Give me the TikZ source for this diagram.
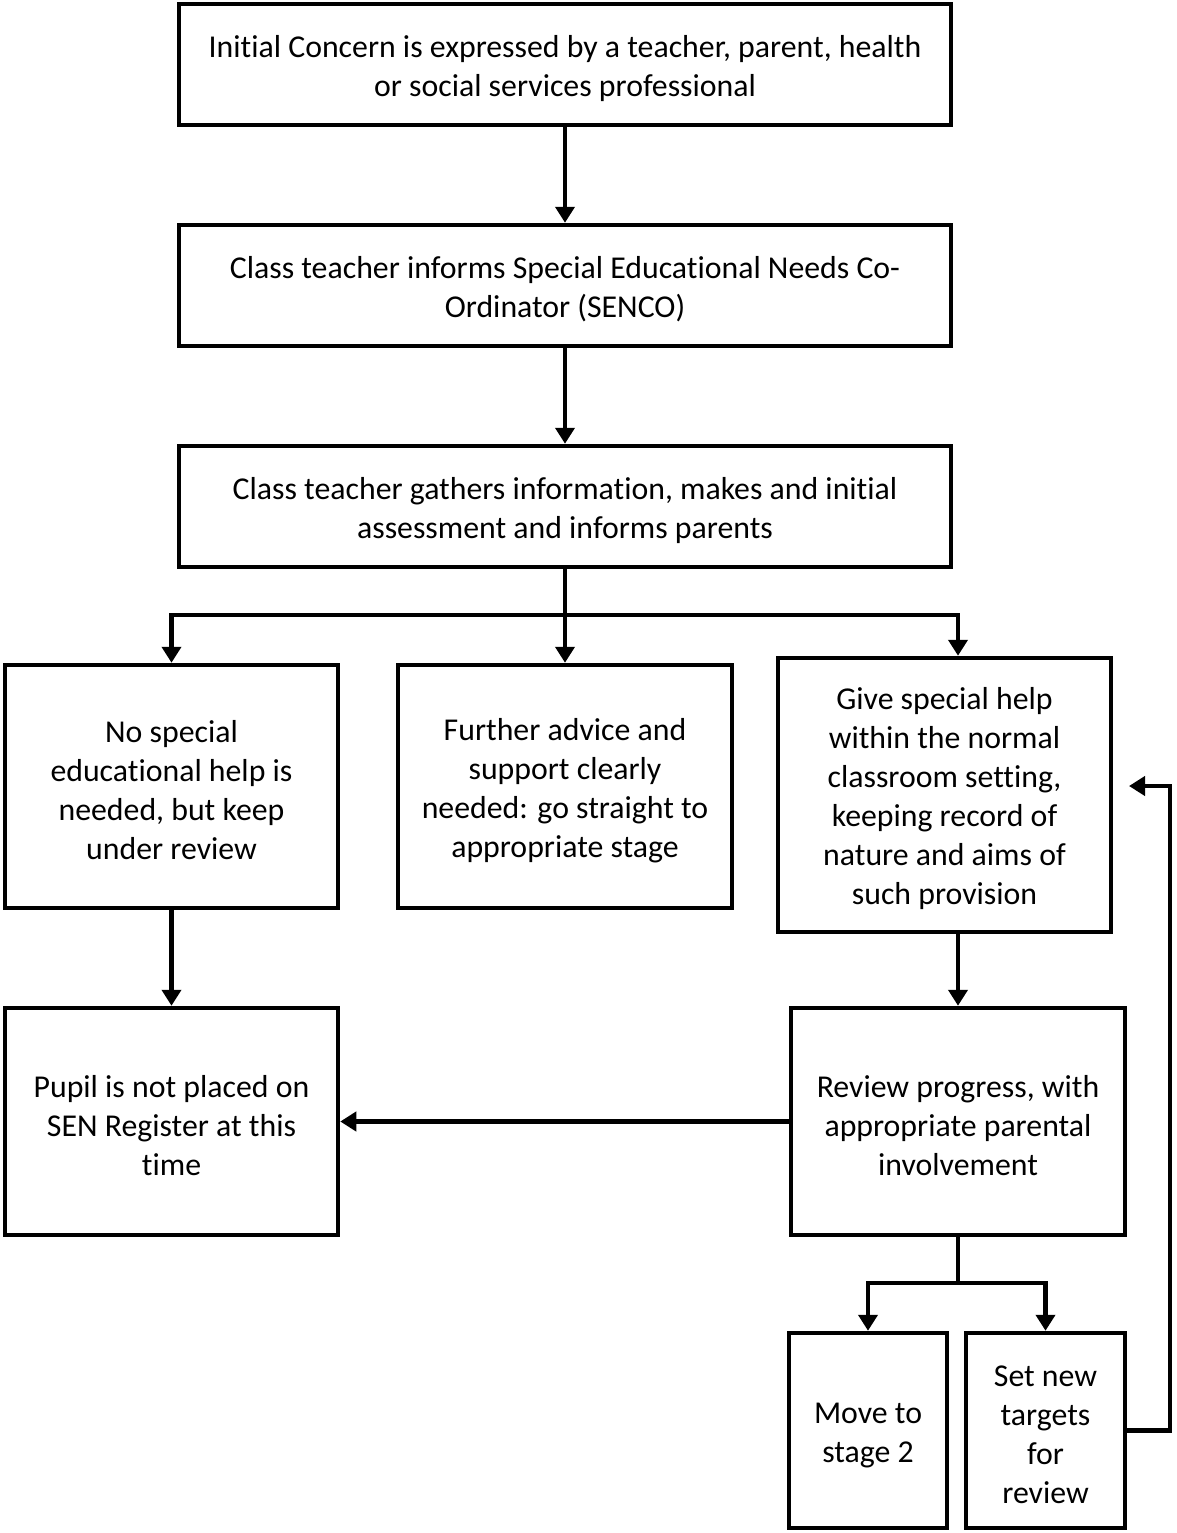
\documentclass[tikz,border=0pt]{standalone}
\usepackage{fontspec}
\setmainfont{Carlito}[Ligatures={NoCommon}]
\usetikzlibrary{arrows.meta}
\newcommand\toppad{\rule{0pt}{30pt}}
\begin{document}
\begin{tikzpicture}[x=1pt,y=-1pt,
  box/.style={draw,line width=4.5pt,inner sep=0pt,align=center,
    font=\fontsize{31.8}{39}\selectfont},
  arr/.style={line width=4.5pt,-{Triangle[width=19pt,length=16pt]}},
  ln/.style={line width=4.5pt}]
\useasboundingbox (0,0) rectangle (1176,1533);
\node[box,minimum width=772pt,minimum height=121pt] (b1) at (565,64.5)
  {\toppad Initial Concern is expressed by a teacher, parent, health\\or social services professional};
\node[box,minimum width=772pt,minimum height=121pt] (b2) at (565,285.5)
  {\toppad Class teacher informs Special Educational Needs Co-\\Ordinator (SENCO)};
\node[box,minimum width=772pt,minimum height=121pt] (b3) at (565,506.5)
  {\toppad Class teacher gathers information, makes and initial\\assessment and informs parents};
\node[box,minimum width=333pt,minimum height=243pt] (b4) at (171.5,786.5)
  {\toppad No special\\educational help is\\needed, but keep\\under review};
\node[box,minimum width=334pt,minimum height=243pt] (b5) at (565,786.5)
  {\toppad Further advice and\\support clearly\\needed: go straight to\\appropriate stage};
\node[box,minimum width=333pt,minimum height=274pt] (b6) at (944.5,795)
  {\toppad Give special help\\within the normal\\classroom setting,\\keeping record of\\nature and aims of\\such provision};
\node[box,minimum width=333pt,minimum height=227pt] (b7) at (171.5,1121.5)
  {\toppad Pupil is not placed on\\SEN Register at this\\time};
\node[box,minimum width=334pt,minimum height=227pt] (b8) at (958,1121.5)
  {\toppad Review progress, with\\appropriate parental\\involvement};
\node[box,minimum width=158pt,minimum height=195pt] (b9) at (868,1430.5)
  {\toppad Move to\\stage 2};
\node[box,minimum width=159pt,minimum height=195pt] (b10) at (1045.5,1430.5)
  {\toppad Set new\\targets\\for\\review};
\coordinate (s1) at (565,615);
\coordinate (s2) at (958,1283);
\coordinate (fbc) at (1170,786);
\coordinate (fb) at (1129,786);
\draw[arr] (b1) -- (b2);
\draw[arr] (b2) -- (b3);
\draw[arr] (b3) -- (b5);
\draw[arr] (s1) -| (b4.north);
\draw[arr] (s1) -| (b6.north -| b8.north);
\draw[arr] (b4) -- (b7);
\draw[arr] (b8.north |- b6.south) -- (b8.north);
\draw[arr] (b8.west) -- (b7.east);
\draw[ln] (b8.south) -- (s2);
\draw[arr] (s2) -| (b9.north);
\draw[arr] (s2) -| (b10.north);
\draw[arr] (b10.east) -| (fbc) -- (fb);
\end{tikzpicture}
\end{document}
